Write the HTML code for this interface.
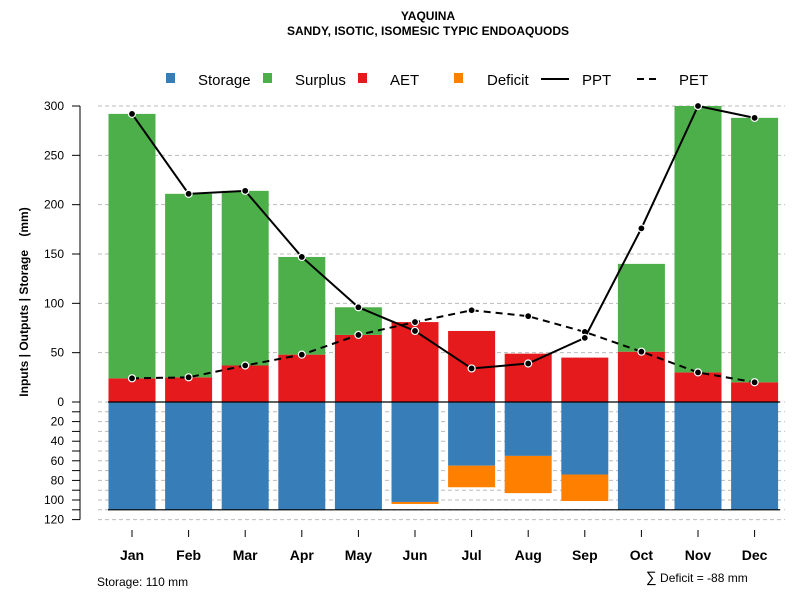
<!DOCTYPE html>
<html><head><meta charset="utf-8"><style>
body{margin:0;background:#fff}
svg{display:block;font-family:"Liberation Sans",sans-serif}
</style></head><body>
<svg id="chart" width="800" height="600" viewBox="0 0 800 600" xmlns="http://www.w3.org/2000/svg">
<text x="428" y="20" text-anchor="middle" font-size="12" font-weight="bold">YAQUINA</text>
<text x="428" y="35" text-anchor="middle" font-size="12" font-weight="bold">SANDY, ISOTIC, ISOMESIC TYPIC ENDOAQUODS</text>
<g id="grid"></g>
<g id="bars"></g>
<g id="lines"></g>
<g id="axes"></g>
<g font-size="15">
<rect x="166" y="73" width="9" height="10" fill="#377EB8"/>
<text x="198" y="85">Storage</text>
<rect x="263" y="73" width="9" height="10" fill="#4DAF4A"/>
<text x="295" y="85">Surplus</text>
<rect x="358" y="73" width="9" height="10" fill="#E41A1C"/>
<text x="390" y="85">AET</text>
<rect x="454" y="73" width="9" height="10" fill="#FF7F00"/>
<text x="487" y="85">Deficit</text>
<line x1="541" y1="79" x2="569" y2="79" stroke="#000" stroke-width="2"/>
<text x="582" y="85">PPT</text>
<line x1="637" y1="79" x2="661" y2="79" stroke="#000" stroke-width="2" stroke-dasharray="7,5"/>
<text x="679" y="85">PET</text>
</g>
<text transform="translate(28,302) rotate(-90)" text-anchor="middle" font-size="12" font-weight="bold" style="white-space:pre">Inputs | Outputs | Storage    (mm)</text>
<text x="97" y="586" font-size="12">Storage: 110 mm</text>
<text x="646" y="582" font-size="12"><tspan font-size="15">∑</tspan> Deficit = -88 mm</text>
</svg>
<script>
const months=["Jan","Feb","Mar","Apr","May","Jun","Jul","Aug","Sep","Oct","Nov","Dec"];
const ppt=[292,211,214,147,96,72,34,39,65,176,300,288];
const pet=[24,25,37,48,68,81,93,87,71,51,30,20];
const aet=[24,25,37,48,68,81,72,49,45,51,30,20];
const surplus=[268,186,177,99,28,0,0,0,0,89,270,268];
const storage=[110,110,110,110,110,102,65,55,74,110,110,110];
const deficit=[0,0,0,0,0,1,22,38,27,0,0,0];
const upperTicks=[0,50,100,150,200,250,300];
const lowerTicks=[0,20,40,60,80,100,120];
const capacity=110;
const NS="http://www.w3.org/2000/svg";
const y0=402,k=296/300;
const yU=v=>y0-v*k, yL=v=>y0+v*0.98;
const xC=i=>132+i*56.6, bw=47;
function mk(p,t,a){const e=document.createElementNS(NS,t);for(const q in a)e.setAttribute(q,a[q]);p.appendChild(e);return e;}
const G=document.getElementById('grid'),B=document.getElementById('bars'),L=document.getElementById('lines'),A=document.getElementById('axes');
upperTicks.forEach(t=>{if(t===0)return;const e=mk(G,'line',{x1:98,x2:785,y1:yU(t),y2:yU(t),stroke:'#bbb','stroke-dasharray':'4,3'});

});
for(let t=0;t<=120;t+=10){const e=mk(G,'line',{x1:98,x2:785,y1:yL(t),y2:yL(t),stroke:'#bbb','stroke-dasharray':'4,3'});

}
months.forEach((m,i)=>{const x=xC(i)-bw/2;
let r=mk(B,'rect',{x:x,y:yU(aet[i]),width:bw,height:aet[i]*k,fill:'#E41A1C'});


if(surplus[i]>0){r=mk(B,'rect',{x:x,y:yU(aet[i]+surplus[i]),width:bw,height:surplus[i]*k,fill:'#4DAF4A'});

}
r=mk(B,'rect',{x:x,y:y0,width:bw,height:yL(storage[i])-y0,fill:'#377EB8'});


if(deficit[i]>0){r=mk(B,'rect',{x:x,y:yL(storage[i]),width:bw,height:Math.max(2,deficit[i]*0.98),fill:'#FF7F00'});

}
});
let l=mk(B,'line',{x1:108,x2:780,y1:y0,y2:y0,stroke:'#000','stroke-width':1.2});


l=mk(B,'line',{x1:108,x2:780,y1:yL(capacity),y2:yL(capacity),stroke:'#000','stroke-width':1.2});


function series(vals,name,dash){const pts=vals.map((v,i)=>xC(i)+','+yU(v)).join(' ');
const p=mk(L,'polyline',{points:pts,fill:'none',stroke:'#000','stroke-width':2,'stroke-dasharray':dash});


vals.forEach((v,i)=>{const c=mk(L,'circle',{cx:xC(i),cy:yU(v),r:3.5,fill:'#000',stroke:'#fff','stroke-width':1.2});

});}
series(pet,'pet','7,5');series(ppt,'ppt','none');
l=mk(A,'line',{x1:80,x2:80,y1:yU(300),y2:yL(120),stroke:'#000'});


upperTicks.forEach(t=>{const e=mk(A,'line',{x1:72,x2:80,y1:yU(t),y2:yU(t),stroke:'#000'});


if(t===0)return;const tx=mk(A,'text',{x:64,y:yU(t)+4,'text-anchor':'end','font-size':12});tx.textContent=t;

});
for(let t=0;t<=120;t+=10){const e=mk(A,'line',{x1:72,x2:80,y1:yL(t),y2:yL(t),stroke:'#000'});

}
lowerTicks.forEach(t=>{const tx=mk(A,'text',{x:64,y:yL(t)+4,'text-anchor':'end','font-size':12});tx.textContent=t;

});
months.forEach((m,i)=>{const e=mk(A,'line',{x1:xC(i),x2:xC(i),y1:530,y2:537,stroke:'#000'});


const tx=mk(A,'text',{x:xC(i),y:560,'text-anchor':'middle','font-size':14,'font-weight':'bold'});tx.textContent=m;

});
</script>
</body></html>
